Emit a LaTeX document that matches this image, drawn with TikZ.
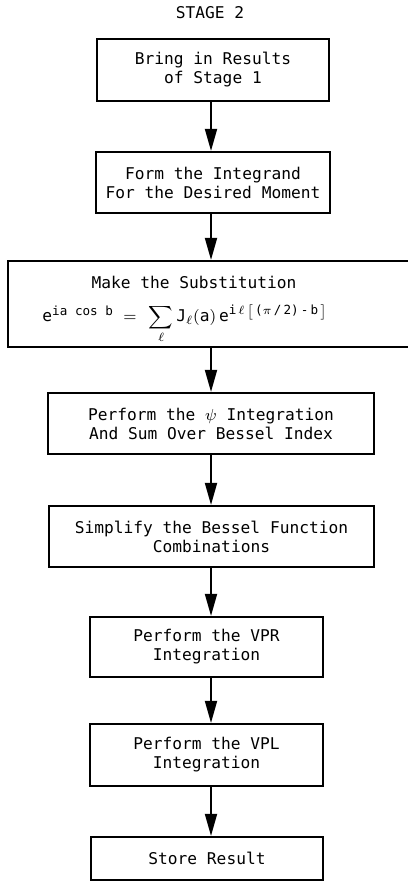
\documentclass[tikz,border=0pt]{standalone}
\usepackage{fontspec}
\usepackage{amsmath}
\setmonofont{DejaVu Sans Mono}
\usetikzlibrary{arrows.meta, positioning}

\newcommand{\supsz}{\fontsize{6.3}{7}\selectfont}

\begin{document}
\begin{tikzpicture}[
  x=0.5pt, y=-0.5pt,
  every node/.style={font=\ttfamily\fontsize{8.1}{9.5}\selectfont},
  block/.style={rectangle, draw, line width=1.1pt, align=center, inner sep=0pt},
  flow/.style={-{Triangle[length=11pt, width=6pt]}, line width=0.9pt},
]
\useasboundingbox (0,0) rectangle (407,883);

% Title
\node (title) at (210,13) {STAGE 2};

% Steps
\node[block, minimum width=116pt, minimum height=31pt] (bring) at (213,70) {Bring in Results\\of Stage 1};
\node[block, minimum width=117pt, minimum height=30.5pt] (form) at (213,182.5) {Form the Integrand\\For the Desired Moment};
\node[block, minimum width=203pt, minimum height=43pt] (subst) at (211,304)
  {\rule{0pt}{12pt}Make the Substitution\hspace*{17pt}\\[7pt]
   $\text{e}^{\text{\supsz ia cos b}}\;\;{=}\;\;\displaystyle\sum_{\ell}\text{J}_{\ell}(\text{a})\,\text{e}^{\text{\supsz i\,$\ell$\,$\bigl[$\,($\pi$\,/\,2)\,-\,b\,$\bigr]$}}$\hspace*{26pt}};
\node[block, minimum width=163pt, minimum height=30.5pt] (psi) at (211,423.5) {Perform the $\psi$ Integration\\And Sum Over Bessel Index};
\node[block, minimum width=162.5pt, minimum height=30.5pt] (simp) at (211.5,536.5) {Simplify the Bessel Function\\Combinations};
\node[block, minimum width=116.5pt, minimum height=30pt] (vpr) at (206.5,647) {Perform the VPR\\Integration};
\node[block, minimum width=116.5pt, minimum height=31pt] (vpl) at (206.5,755) {Perform the VPL\\Integration};
\node[block, minimum width=116pt, minimum height=21.5pt] (store) at (207,858.5) {Store Result};

% Connectors
\coordinate (axis) at (211,0);
\draw[flow] (bring.south -| axis) -- (form.north -| axis);
\draw[flow] (form.south -| axis) -- (subst.north -| axis);
\draw[flow] (subst.south -| axis) -- (psi.north -| axis);
\draw[flow] (psi.south -| axis) -- (simp.north -| axis);
\draw[flow] (simp.south -| axis) -- (vpr.north -| axis);
\draw[flow] (vpr.south -| axis) -- (vpl.north -| axis);
\draw[flow] (vpl.south -| axis) -- (store.north -| axis);

\end{tikzpicture}
\end{document}
